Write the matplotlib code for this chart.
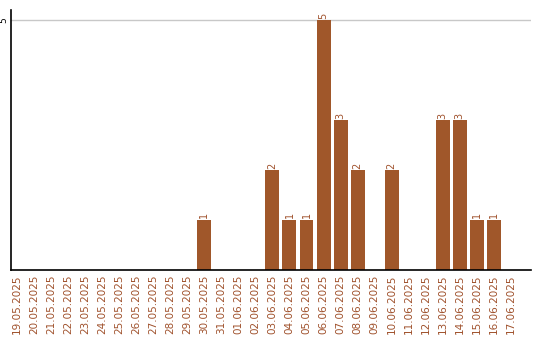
import matplotlib
matplotlib.use("Agg")
import matplotlib.pyplot as plt

dates = ["19.05.2025", "20.05.2025", "21.05.2025", "22.05.2025", "23.05.2025",
         "24.05.2025", "25.05.2025", "26.05.2025", "27.05.2025", "28.05.2025",
         "29.05.2025", "30.05.2025", "31.05.2025", "01.06.2025", "02.06.2025",
         "03.06.2025", "04.06.2025", "05.06.2025", "06.06.2025", "07.06.2025",
         "08.06.2025", "09.06.2025", "10.06.2025", "11.06.2025", "12.06.2025",
         "13.06.2025", "14.06.2025", "15.06.2025", "16.06.2025", "17.06.2025"]
values = [0, 0, 0, 0, 0, 0, 0, 0, 0, 0,
          0, 1, 0, 0, 0, 2, 1, 1, 5, 3,
          2, 0, 2, 0, 0, 3, 3, 1, 1, 0]
yticks = [5]

color = "#a0572a"
text_color = "#a0522d"

fig = plt.figure(figsize=(5.4, 3.4), dpi=100)
ax = fig.add_axes([11/540, 70/340, 520/540, 260/340])

x = list(range(len(dates)))
ax.bar(x, values, width=0.82, color=color, zorder=2)
for xi, v in zip(x, values):
    if v > 0:
        ax.text(xi, v + 0.03, str(v), rotation=90, ha="center", va="bottom",
                fontsize=7, color=text_color)

ax.set_xlim(-0.35, 30.18)
ax.set_ylim(0, 5.2)
ax.set_xticks(x)
ax.set_xticklabels(dates, rotation=90, fontsize=7.5, color=text_color)
ax.set_yticks(yticks)
ax.set_yticklabels([str(t) for t in yticks], rotation=90, fontsize=6.5,
                   va="center", ha="center")
ax.tick_params(axis="both", length=0, pad=3)
ax.tick_params(axis="y", pad=5)
ax.grid(axis="y", color="#c8c8c8", linewidth=1, zorder=0)
ax.spines["top"].set_visible(False)
ax.spines["right"].set_visible(False)
ax.spines["left"].set_linewidth(1.2)
ax.spines["bottom"].set_linewidth(1.2)

fig.savefig("out.png", dpi=100)
